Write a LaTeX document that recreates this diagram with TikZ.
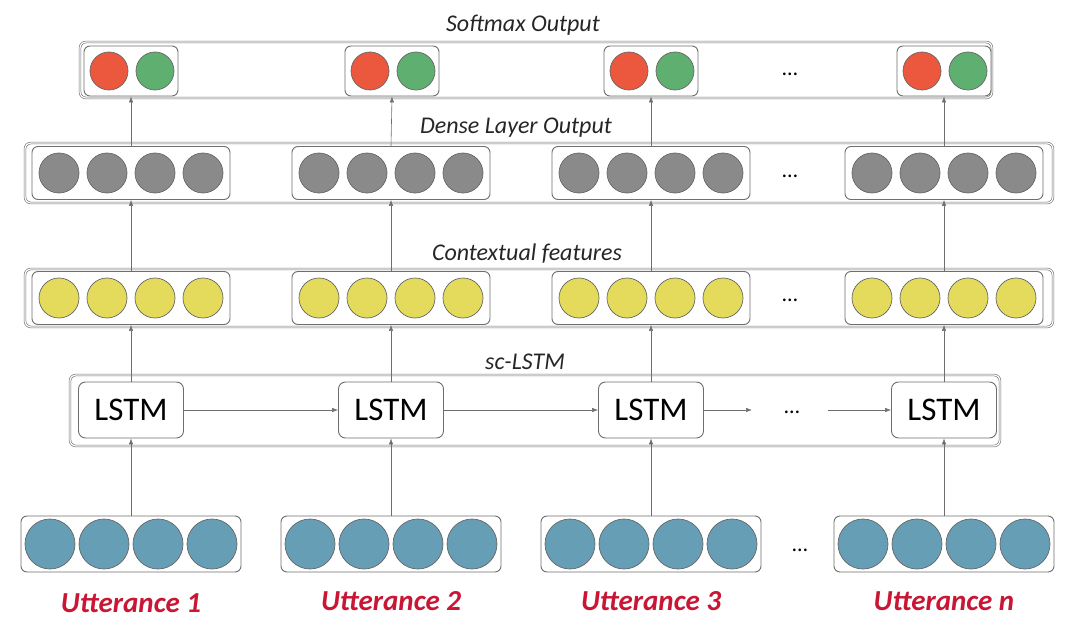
\documentclass[tikz,border=0pt]{standalone}
\usepackage{fontspec}
\setmainfont{Carlito}
\usetikzlibrary{arrows.meta}
\definecolor{cred}{RGB}{235,88,62}
\definecolor{cgreen}{RGB}{95,175,112}
\definecolor{cgray}{RGB}{138,138,138}
\definecolor{cyel}{RGB}{228,218,92}
\definecolor{cblue}{RGB}{102,158,182}
\definecolor{lred}{RGB}{200,22,52}
\definecolor{edge}{RGB}{110,110,110}
\begin{document}
\begin{tikzpicture}[x=1pt,y=-1pt,
  layerbox/.style={draw=edge, double=white, double distance=1.2pt, rounded corners=6pt, line width=0.6pt},
  grp/.style={draw=edge, rounded corners=6pt, line width=0.9pt, fill=white, inner sep=0pt},
  neuron/.style={circle, draw=black!60, line width=0.7pt, inner sep=0pt},
  lstmbox/.style={draw=edge, rounded corners=7pt, fill=white, line width=0.9pt, minimum width=105pt, minimum height=56pt, inner sep=0pt, font=\fontsize{33}{36}\selectfont},
  conn/.style={draw=edge, line width=0.6pt, -{Latex[length=6pt,width=4.5pt]}},
  lbl/.style={font=\fontsize{24}{26}\selectfont\itshape, text=black!85},
  ulbl/.style={font=\fontsize{29}{32}\selectfont\bfseries\itshape, text=lred},
  dotsl/.style={font=\fontsize{22}{24}\selectfont}
]
\useasboundingbox (0,0) rectangle (1080,626);

% layer frames
\draw[layerbox] (80,42) rectangle (992,98);
\draw[layerbox] (25,143) rectangle (1053,203);
\draw[layerbox] (25,269) rectangle (1053,327);
\draw[layerbox] (70,375) rectangle (1000,446);

% labels
\node[lbl] (tsoft) at (523,25) {Softmax Output};
\node[lbl] (tdense) at (516,128) {Dense Layer Output};
\node[lbl] (tctx) at (527,254) {Contextual features};
\node[lbl] (tsc) at (525,362) {sc-LSTM};

% softmax groups
\foreach \i/\cx in {1/131,2/392,3/651,4/944}{
  \node[grp, minimum width=94pt, minimum height=50pt] (s\i) at (\cx,71) {};
  \node[neuron, fill=cred, minimum size=38pt] (sr\i) at (\cx-22,71) {};
  \node[neuron, fill=cgreen, minimum size=38pt] (sg\i) at (\cx+24,71) {};
}
\node[dotsl] (sdots) at (790,74) {\dots};

% dense groups
\foreach \i/\cx in {1/131,2/391,3/651,4/944}{
  \node[grp, minimum width=198pt, minimum height=53pt] (d\i) at (\cx,173) {};
  \foreach \j/\o in {1/-72,2/-24,3/24,4/72}{
    \node[neuron, fill=cgray, minimum size=40pt] (d\i n\j) at (\cx+\o,173) {};
  }
}
\node[dotsl] (ddots) at (790,176) {\dots};

% contextual groups
\foreach \i/\cx in {1/131,2/391,3/651,4/944}{
  \node[grp, minimum width=198pt, minimum height=53pt] (c\i) at (\cx,298) {};
  \foreach \j/\o in {1/-72,2/-24,3/24,4/72}{
    \node[neuron, fill=cyel, minimum size=40pt] (c\i n\j) at (\cx+\o,298) {};
  }
}
\node[dotsl] (cdots) at (790,300) {\dots};

% LSTM boxes
\foreach \i/\cx in {1/131,2/391,3/651,4/944}{
  \node[lstmbox] (l\i) at (\cx,410) {LSTM};
}
\node[dotsl] (ldots) at (792,412) {\dots};
\coordinate (la) at (752,410);
\coordinate (lb) at (828,410);

% utterance groups
\foreach \i/\cx in {1/131,2/391,3/651,4/944}{
  \node[grp, minimum width=220pt, minimum height=56pt] (u\i) at (\cx,544) {};
  \foreach \j/\o in {1/-81,2/-27,3/27,4/81}{
    \node[neuron, fill=cblue, minimum size=50pt] (u\i n\j) at (\cx+\o,544) {};
  }
}
\node[dotsl] (udots) at (800,550) {\dots};

\node[ulbl] (ut1) at (131,603) {Utterance 1};
\node[ulbl] (ut2) at (391,601) {Utterance 2};
\node[ulbl] (ut3) at (651,601) {Utterance 3};
\node[ulbl] (ut4) at (944,601) {Utterance n};

% connectors
\foreach \i in {1,2,3,4}{
  \draw[conn] (u\i.north) -- (l\i.south);
  \draw[conn] (l\i.north) -- (c\i.south);
  \draw[conn] (c\i.north) -- (d\i.south);
  \draw[conn] (d\i.north) -- (s\i.south);
}
\draw[conn] (l1.east) -- (l2.west);
\draw[conn] (l2.east) -- (l3.west);
\draw[conn] (l3.east) -- (la);
\draw[conn] (lb) -- (l4.west);
\end{tikzpicture}
\end{document}
